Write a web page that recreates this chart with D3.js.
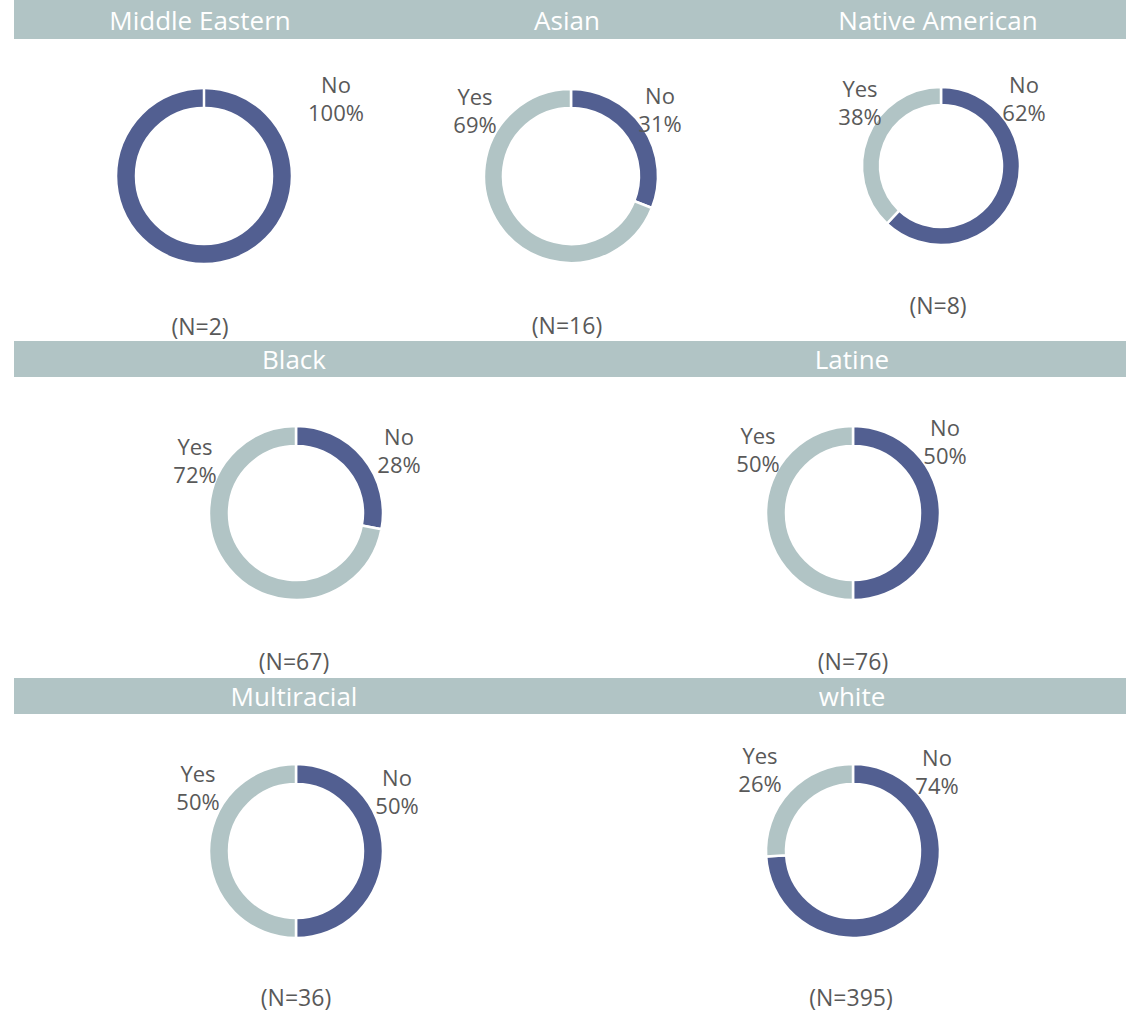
<!DOCTYPE html>
<html>
<head>
<meta charset="utf-8">
<script src="https://cdn.jsdelivr.net/npm/d3@7"></script>
<style>
  html, body { margin: 0; padding: 0; background: #ffffff; }
  svg { display: block; }
</style>
</head>
<body>
<svg id="chart" width="1126" height="1013"></svg>
<script>
// Survey answers by group: share answering "No" and "Yes" (percent), and sample size
const groups  = ["Middle Eastern", "Asian", "Native American", "Black", "Latine", "Multiracial", "white"];
const noPct   = [100, 31, 62, 28, 50, 50, 74];
const yesPct  = [0, 69, 38, 72, 50, 50, 26];
const sampleN = [2, 16, 8, 67, 76, 36, 395];
const answers = ["No", "Yes"];

// Page layout: header bands and where each donut sits
const bands = [
  { y: 0,   h: 39 },
  { y: 341, h: 36 },
  { y: 678, h: 36 }
];
const panels = [
  { band: 0, titleX: 200, cx: 204, cy: 176, r: 87, w: 18, nX: 200, nY: 326, labels: [[132, -78], [0, 0]] },
  { band: 0, titleX: 567, cx: 571, cy: 176, r: 86, w: 17, nX: 567, nY: 325, labels: [[89, -67], [-96, -66]] },
  { band: 0, titleX: 938, cx: 941, cy: 166, r: 78, w: 16, nX: 938, nY: 305, labels: [[83, -68], [-81, -64]] },
  { band: 1, titleX: 294, cx: 296, cy: 513, r: 86, w: 18, nX: 294, nY: 661, labels: [[103, -63], [-101, -53]] },
  { band: 1, titleX: 852, cx: 853, cy: 513, r: 86, w: 18, nX: 853, nY: 661, labels: [[92, -72], [-95, -64]] },
  { band: 2, titleX: 294, cx: 296, cy: 851, r: 86, w: 18, nX: 296, nY: 997, labels: [[101, -60], [-98, -64]] },
  { band: 2, titleX: 852, cx: 853, cy: 851, r: 86, w: 18, nX: 851, nY: 997, labels: [[84, -80], [-93, -82]] }
];

const colour = d3.scaleOrdinal().domain(answers).range(["#525f91", "#b1c4c5"]);
const bandFill = "#b1c4c5";
const textFill = "#595959";
const font = "'Open Sans', 'Noto Sans', sans-serif";

const svg = d3.select("#chart");

// Header bands
svg.selectAll("rect.band")
  .data(bands)
  .join("rect")
  .attr("class", "band")
  .attr("x", 14)
  .attr("y", d => d.y)
  .attr("width", 1126 - 14)
  .attr("height", d => d.h)
  .attr("fill", bandFill);

const pie = d3.pie().sort(null).value(d => d.value);

const panel = svg.selectAll("g.panel")
  .data(groups.map((name, i) => ({
    name, layout: panels[i], n: sampleN[i],
    slices: [
      { answer: answers[0], value: noPct[i] },
      { answer: answers[1], value: yesPct[i] }
    ]
  })))
  .join("g")
  .attr("class", "panel");

// Group titles in the header band
panel.append("text")
  .attr("x", d => d.layout.titleX)
  .attr("y", d => bands[d.layout.band].y + bands[d.layout.band].h / 2)
  .attr("text-anchor", "middle")
  .attr("dominant-baseline", "central")
  .attr("font-family", font)
  .attr("font-size", 26)
  .attr("fill", "#ffffff")
  .text(d => d.name);

// Donut rings
const ring = panel.append("g")
  .attr("transform", d => `translate(${d.layout.cx},${d.layout.cy})`);

ring.selectAll("path")
  .data(d => {
    const arc = d3.arc()
      .outerRadius(d.layout.r + 1)
      .innerRadius(d.layout.r - d.layout.w - 1);
    return pie(d.slices).map(s => ({ s, arc }));
  })
  .join("path")
  .attr("d", d => d.arc(d.s))
  .attr("fill", d => colour(d.s.data.answer))
  .attr("stroke", "#ffffff")
  .attr("stroke-width", 2.5)
  .attr("stroke-linejoin", "miter");

// Category / percent labels
ring.selectAll("text")
  .data(d => d.slices
    .map((s, k) => ({ s, off: d.layout.labels[k] }))
    .filter(e => e.s.value > 0))
  .join("text")
  .attr("text-anchor", "middle")
  .attr("font-family", font)
  .attr("font-size", 22)
  .attr("fill", textFill)
  .each(function (e) {
    const t = d3.select(this);
    t.append("tspan")
      .attr("x", e.off[0])
      .attr("y", e.off[1] - 14)
      .attr("dominant-baseline", "central")
      .text(e.s.answer);
    t.append("tspan")
      .attr("x", e.off[0])
      .attr("y", e.off[1] + 14)
      .attr("dominant-baseline", "central")
      .text(e.s.value + "%");
  });

// Sample size under each donut
panel.append("text")
  .attr("x", d => d.layout.nX)
  .attr("y", d => d.layout.nY)
  .attr("text-anchor", "middle")
  .attr("dominant-baseline", "central")
  .attr("font-family", font)
  .attr("font-size", 23)
  .attr("fill", textFill)
  .text(d => `(N=${d.n})`);
</script>
</body>
</html>
